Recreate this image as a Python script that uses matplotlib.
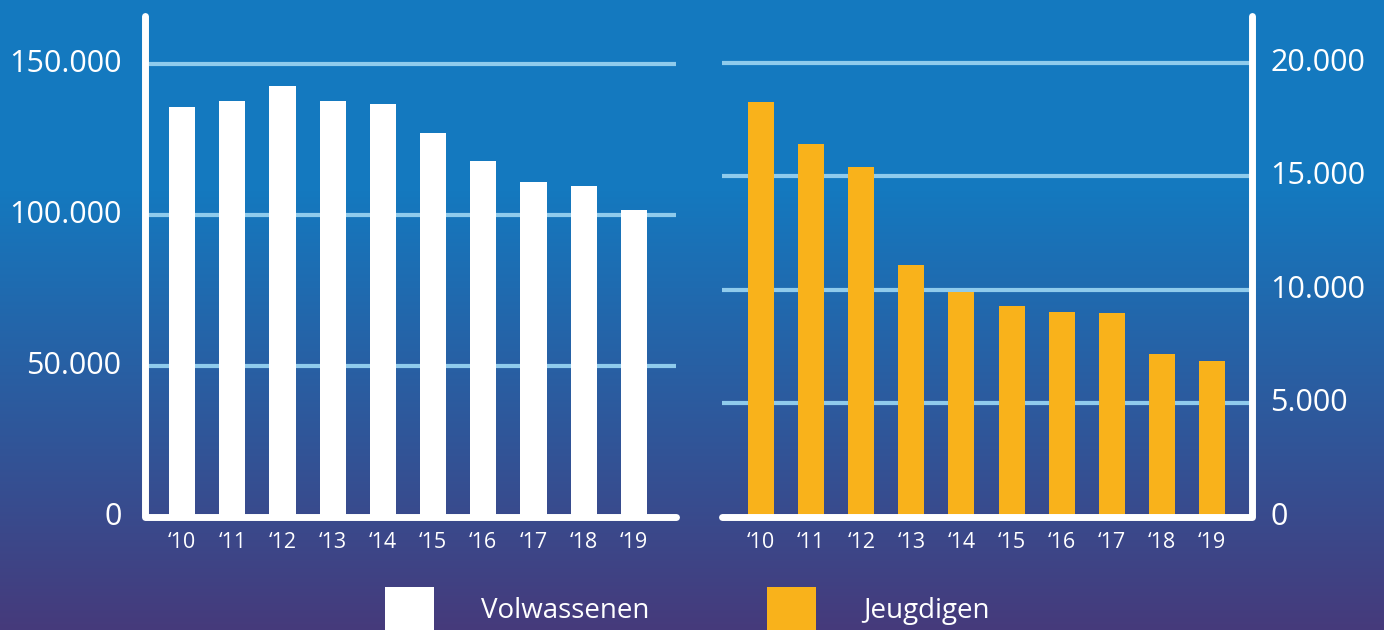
import numpy as np
import matplotlib
matplotlib.use('Agg')
import matplotlib.pyplot as plt
from matplotlib.colors import to_rgb

plt.rcParams['font.family'] = ['Open Sans', 'DejaVu Sans']

# data
jaren = ['\u201810', '\u201811', '\u201812', '\u201813', '\u201814',
         '\u201815', '\u201816', '\u201817', '\u201818', '\u201819']
volwassenen = [135800, 137700, 142700, 137700, 136800, 127200, 117900, 110900, 109600, 101600]
jeugdigen = [18300, 16450, 15400, 11100, 9900, 9300, 9050, 8980, 7180, 6870]
ticks_links = [0, 50000, 100000, 150000]
ticks_rechts = [0, 5000, 10000, 15000, 20000]

def fmt(v):
    return f'{v:,}'.replace(',', '.')

W, H = 1384, 630
fig = plt.figure(figsize=(W / 100, H / 100), dpi=100)

# achtergrond verloop
bg = fig.add_axes([0, 0, 1, 1], zorder=-10)
top = np.array(to_rgb('#1479bf'))
bot = np.array(to_rgb('#463a7b'))
rows = np.arange(H)
t = np.clip((rows - 190) / (H - 190), 0, 1)[:, None]
grad = top * (1 - t) + bot * t
bg.imshow(grad[:, None, :], aspect='auto', extent=[0, 1, 0, 1], origin='upper')
bg.set_axis_off()

wit = 'white'
oranje = '#f9b21b'
gridkleur = '#8fcbec'
x = np.arange(len(jaren))

def opmaak(ax, ticks, ymax, rechts=False):
    ax.set_facecolor('none')
    if rechts:
        ax.set_xlim(-0.78, 9.8)
    else:
        ax.set_xlim(-0.74, 9.84)
    ax.set_ylim(0, ymax)
    for s in ax.spines.values():
        s.set_visible(False)
    ax.set_yticks(ticks)
    ax.set_yticklabels([fmt(v) for v in ticks], va='center')
    ax.set_xticks(x)
    ax.set_xticklabels(jaren)
    ax.tick_params(axis='y', length=0, labelsize=22, colors=wit, pad=17 if not rechts else 13)
    ax.tick_params(axis='x', length=0, labelsize=15.5, colors=wit, pad=11)
    if rechts:
        ax.yaxis.tick_right()
    for v in ticks[1:]:
        ax.axhline(v, color=gridkleur, lw=3, solid_capstyle='round', zorder=1)
    x0, x1 = ax.get_xlim()
    xs = x1 if rechts else x0
    xe = x0 if rechts else x1
    ax.plot([xs, xs, xe], [ymax, 0, 0], color=wit, lw=5, solid_capstyle='round',
            solid_joinstyle='round', clip_on=False, zorder=5)

ax1 = fig.add_axes([145 / W, 1 - 517 / H, (676 - 145) / W, (517 - 16) / H])
b1 = ax1.bar(x, volwassenen, width=0.52, color=wit, zorder=3, label='Volwassenen')
opmaak(ax1, ticks_links, 165900)

ax2 = fig.add_axes([722 / W, 1 - 517 / H, (1252 - 722) / W, (517 - 16) / H])
b2 = ax2.bar(x, jeugdigen, width=0.52, color=oranje, zorder=3, label='Jeugdigen')
opmaak(ax2, ticks_rechts, 22070, rechts=True)

leg = fig.legend(handles=[b1, b2], loc='center', bbox_to_anchor=(687.5 / W, 1 - 609 / H),
                 ncol=2, frameon=False, fontsize=20, handlelength=1.76, handleheight=2.1,
                 handletextpad=1.69, columnspacing=4.24, labelcolor=wit,
                 borderpad=0, borderaxespad=0)

fig.savefig('out.png', dpi=100)
